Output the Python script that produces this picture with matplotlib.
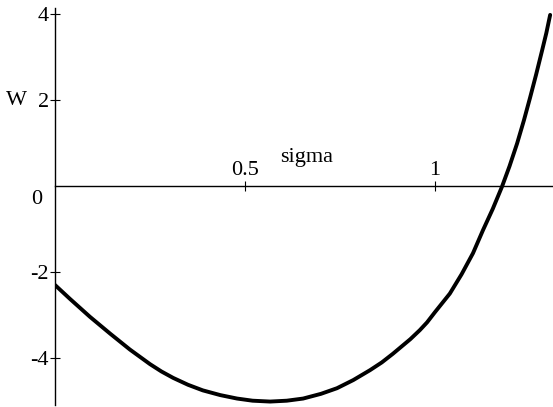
import numpy as np
import matplotlib.pyplot as plt

plt.rcParams['font.family'] = ['Liberation Serif', 'DejaVu Serif']

sigma = [0.0, 0.039, 0.092, 0.145, 0.197, 0.25, 0.28, 0.311, 0.35, 0.389,
         0.435, 0.479, 0.52, 0.566, 0.61, 0.653, 0.70, 0.742, 0.785, 0.829,
         0.86, 0.889, 0.935, 0.96, 0.979, 1.0, 1.039, 1.07, 1.10, 1.126,
         1.152, 1.176, 1.196, 1.216, 1.234, 1.25, 1.266, 1.282, 1.293, 1.303]
W = [-2.30, -2.62, -3.04, -3.43, -3.80, -4.14, -4.31, -4.46, -4.62, -4.75,
     -4.86, -4.94, -4.99, -5.01, -4.99, -4.94, -4.83, -4.70, -4.51, -4.28,
     -4.10, -3.90, -3.56, -3.35, -3.17, -2.93, -2.50, -2.05, -1.56, -1.03,
     -0.53, -0.02, 0.46, 0.99, 1.53, 2.05, 2.59, 3.16, 3.56, 3.98]

xticks = [0.5, 1]
yticks = [-4, -2, 2, 4]

fig = plt.figure(figsize=(5.53, 4.07), dpi=100)
ax = fig.add_axes([55 / 553, 2 / 407, 498 / 553, 397 / 407])

ax.plot(sigma, W, color='black', lw=2.8, solid_capstyle='round',
        solid_joinstyle='round')

ax.set_xlim(0, 1.3105)
ax.set_ylim(-5.09, 4.14)

for s in ['right', 'bottom']:
    ax.spines[s].set_visible(False)
ax.spines['left'].set_position(('data', 0))
ax.spines['top'].set_position(('data', 0))
ax.spines['left'].set_linewidth(1.0)
ax.spines['top'].set_linewidth(1.0)

ax.set_xticks(xticks)
ax.set_xticklabels(['0.5', '1'])
ax.set_yticks(yticks)
ax.set_yticklabels(['-4', '-2', '2', '4'])
ax.tick_params(axis='x', top=True, labeltop=True, bottom=False, labelbottom=False,
               direction='inout', length=7, width=0.8, pad=1, labelsize=16)
ax.tick_params(axis='y', direction='inout', length=7, width=0.8, pad=1, labelsize=16)

ax.annotate('0', xy=(0, 0), xytext=(-9, -10), textcoords='offset points',
            ha='right', va='center', fontsize=16)
ax.annotate('W', xy=(0, 2), xytext=(-20, 0), textcoords='offset points',
            ha='right', va='center', fontsize=16)
ax.text(0.663, 0.67, 'sigma', ha='center', va='center', fontsize=16)

fig.savefig('out.png', dpi=100)
